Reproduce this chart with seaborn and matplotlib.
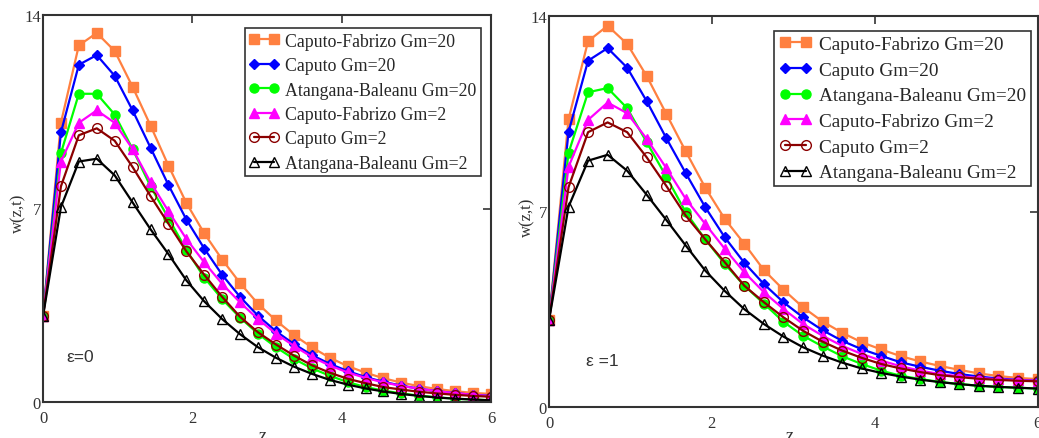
import matplotlib
matplotlib.use('Agg')
import matplotlib.pyplot as plt
import seaborn as sns

# grid of z values (markers every 0.24)
z = [0.0, 0.24, 0.48, 0.72, 0.96, 1.2, 1.44, 1.68, 1.92, 2.16, 2.4, 2.64, 2.88,
     3.12, 3.36, 3.6, 3.84, 4.08, 4.32, 4.56, 4.8, 5.04, 5.28, 5.52, 5.76, 6.0]

labels = ['Caputo-Fabrizo Gm=20', 'Caputo Gm=20', 'Atangana-Baleanu Gm=20',
          'Caputo-Fabrizo Gm=2', 'Caputo Gm=2', 'Atangana-Baleanu Gm=2']

# epsilon = 0
cf20_e0 = [3.1, 10.1, 12.9, 13.35, 12.7, 11.4, 10.0, 8.55, 7.2, 6.1, 5.15, 4.3, 3.55,
           2.95, 2.42, 1.98, 1.6, 1.3, 1.06, 0.86, 0.7, 0.57, 0.47, 0.39, 0.33, 0.29]
c20_e0 = [3.1, 9.75, 12.2, 12.55, 11.8, 10.55, 9.2, 7.85, 6.6, 5.55, 4.6, 3.8, 3.12,
          2.56, 2.1, 1.7, 1.38, 1.12, 0.9, 0.73, 0.59, 0.48, 0.39, 0.32, 0.26, 0.22]
ab20_e0 = [3.1, 9.0, 11.15, 11.15, 10.4, 9.15, 7.8, 6.65, 5.5, 4.5, 3.72, 3.05, 2.47,
           1.98, 1.56, 1.22, 0.95, 0.72, 0.54, 0.41, 0.31, 0.23, 0.17, 0.12, 0.09, 0.06]
cf2_e0 = [3.1, 8.7, 10.1, 10.55, 10.1, 9.15, 7.95, 6.9, 5.9, 5.05, 4.27, 3.6, 3.0,
          2.47, 2.03, 1.63, 1.32, 1.07, 0.87, 0.71, 0.58, 0.48, 0.39, 0.32, 0.26, 0.21]
c2_e0 = [3.1, 7.8, 9.65, 9.9, 9.45, 8.5, 7.45, 6.45, 5.45, 4.6, 3.8, 3.08, 2.52,
         2.08, 1.68, 1.33, 1.06, 0.84, 0.68, 0.54, 0.45, 0.37, 0.31, 0.26, 0.22, 0.19]
ab2_e0 = [3.1, 7.05, 8.7, 8.8, 8.2, 7.22, 6.25, 5.35, 4.4, 3.64, 3.0, 2.45, 1.98,
          1.6, 1.28, 1.02, 0.8, 0.63, 0.49, 0.38, 0.29, 0.22, 0.16, 0.12, 0.09, 0.06]

# epsilon = 1
cf20_e1 = [3.1, 10.3, 13.1, 13.65, 13.0, 11.85, 10.5, 9.15, 7.85, 6.73, 5.84, 4.9, 4.2,
           3.57, 3.06, 2.66, 2.32, 2.06, 1.82, 1.63, 1.47, 1.33, 1.2, 1.11, 1.04, 1.0]
c20_e1 = [3.1, 9.85, 12.4, 12.85, 12.15, 10.95, 9.63, 8.37, 7.15, 6.07, 5.16, 4.4, 3.75,
          3.21, 2.75, 2.37, 2.07, 1.83, 1.6, 1.44, 1.3, 1.18, 1.09, 1.02, 0.97, 0.94]
ab20_e1 = [3.1, 9.1, 11.27, 11.42, 10.7, 9.48, 8.25, 6.97, 6.0, 5.12, 4.34, 3.7, 3.05,
           2.55, 2.17, 1.82, 1.54, 1.3, 1.12, 1.0, 0.9, 0.82, 0.76, 0.72, 0.69, 0.66]
cf2_e1 = [3.1, 8.6, 10.28, 10.9, 10.52, 9.6, 8.56, 7.45, 6.55, 5.66, 4.82, 4.11, 3.51,
          2.97, 2.55, 2.19, 1.9, 1.66, 1.46, 1.3, 1.18, 1.1, 1.04, 0.99, 0.96, 0.94]
c2_e1 = [3.1, 7.87, 9.84, 10.19, 9.84, 8.94, 7.92, 6.85, 6.0, 5.18, 4.34, 3.75, 3.21,
         2.73, 2.34, 2.02, 1.76, 1.54, 1.38, 1.25, 1.14, 1.07, 1.01, 0.97, 0.94, 0.92]
ab2_e1 = [3.1, 7.17, 8.82, 9.03, 8.46, 7.6, 6.7, 5.78, 4.88, 4.15, 3.5, 2.97, 2.52,
          2.14, 1.84, 1.59, 1.38, 1.22, 1.09, 0.98, 0.89, 0.82, 0.76, 0.72, 0.69, 0.66]

x_ticks = [0, 2, 4, 6]
y_ticks = [0, 7, 14]

# style of each trace (Mathcad look)
styles = [
    dict(color='#FF8040', marker='s', markersize=6.5, markerfacecolor='#FF8040', markeredgecolor='#FF8040'),
    dict(color='#0000FF', marker='D', markersize=5, markerfacecolor='#0000FF', markeredgecolor='#0000FF'),
    dict(color='#00FF00', marker='o', markersize=6.5, markerfacecolor='#00FF00', markeredgecolor='#00FF00'),
    dict(color='#FF00FF', marker='^', markersize=7, markerfacecolor='#FF00FF', markeredgecolor='#FF00FF'),
    dict(color='#8B0000', marker='o', markersize=7, markerfacecolor='none', markeredgecolor='#8B0000'),
    dict(color='#000000', marker='^', markersize=7, markerfacecolor='none', markeredgecolor='#000000'),
]

sns.set_style('white')
plt.rcParams['font.family'] = ['Liberation Serif', 'DejaVu Serif']

fig = plt.figure(figsize=(10.39, 4.39), dpi=100)
ax1 = fig.add_axes([43 / 1039, 1 - 403 / 439, 448 / 1039, 387 / 439])
ax2 = fig.add_axes([549 / 1039, 1 - 408 / 439, 488.5 / 1039, 391 / 439])

panels = [
    (ax1, [cf20_e0, c20_e0, ab20_e0, cf2_e0, c2_e0, ab2_e0], 'ε=0', (0.5, 1.66), (0.978, 0.966), 12.8),
    (ax2, [cf20_e1, c20_e1, ab20_e1, cf2_e1, c2_e1, ab2_e1], 'ε =1', (0.65, 1.65), (0.986, 0.962), 13.9),
]

for ax, series, eps_txt, eps_pos, leg_anchor, leg_fs in panels:
    for vals, lab, st in zip(series, labels, styles):
        sns.lineplot(x=z, y=vals, ax=ax, label=lab, linewidth=1.6,
                     markeredgewidth=1.0, **st)
    ax.set_xlim(0, 6)
    ax.set_ylim(0, 14)
    ax.set_xticks(x_ticks)
    ax.set_yticks(y_ticks)
    ax.set_xticklabels([str(t) for t in x_ticks])
    ax.set_yticklabels([str(t) for t in y_ticks])
    ax.tick_params(direction='in', length=6, width=1.2, top=True, right=True,
                   labelsize=12, colors='#333333')
    ax.tick_params(axis='x', pad=6)
    ax.tick_params(axis='y', pad=1.5)
    for sp in ax.spines.values():
        sp.set_color('#333333')
        sp.set_linewidth(1.5)
    ax.set_xlabel('')
    ax.set_ylabel('')
    ax.text(eps_pos[0], eps_pos[1], eps_txt, ha='center', va='center',
            fontsize=12.5, family=['Liberation Sans', 'DejaVu Sans'], color='#333333')
    leg = ax.legend(loc='upper right', bbox_to_anchor=leg_anchor, fontsize=leg_fs,
                    numpoints=2, handlelength=1.7, handletextpad=0.35,
                    labelspacing=0.42, borderpad=0.25, borderaxespad=0,
                    frameon=True, fancybox=False, framealpha=1)
    leg.get_frame().set_edgecolor('#333333')
    leg.get_frame().set_linewidth(1.2)

# axis titles as in the Mathcad export
fig.text(18 / 1039, 1 - 213 / 439, 'w(z,t)', rotation=90, ha='center', va='center',
         fontsize=12, color='#333333')
fig.text(527 / 1039, 1 - 217 / 439, 'w(z,t)', rotation=90, ha='center', va='center',
         fontsize=12, color='#333333')
fig.text(263 / 1039, -2 / 439, 'z', ha='center', va='baseline', fontsize=13, color='#333333')
fig.text(790 / 1039, -2 / 439, 'z', ha='center', va='baseline', fontsize=13, color='#333333')

fig.savefig('out.png', dpi=100)
